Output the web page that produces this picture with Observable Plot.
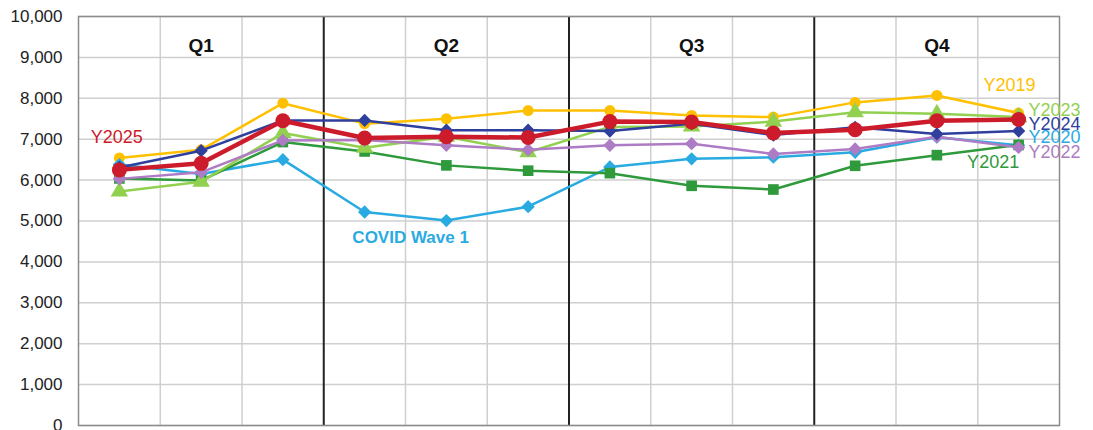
<!DOCTYPE html>
<html>
<head>
<meta charset="utf-8">
<script src="https://cdn.jsdelivr.net/npm/d3@7"></script>
<script src="https://cdn.jsdelivr.net/npm/@observablehq/plot@0.6"></script>
<style>
  html, body { margin: 0; padding: 0; background: #fff; }
  #chart svg { display: block; font-family: "Liberation Sans", Arial, sans-serif; }
</style>
</head>
<body>
<div id="chart"></div>
<script>
// ---- Data ----
const months = ["Jan","Feb","Mar","Apr","May","Jun","Jul","Aug","Sep","Oct","Nov","Dec"];
const quarters = ["Q1","Q2","Q3","Q4"];
const yTicks = [0,1000,2000,3000,4000,5000,6000,7000,8000,9000,10000];

const y2019 = [6540, 6740, 7880, 7380, 7500, 7700, 7700, 7580, 7540, 7900, 8070, 7640];
const y2020 = [6380, 6150, 6500, 5220, 5010, 5350, 6320, 6520, 6560, 6680, 7050, 6850];
const y2021 = [6040, 5990, 6930, 6700, 6360, 6230, 6170, 5860, 5770, 6350, 6610, 6860];
const y2022 = [6030, 6190, 6970, 6980, 6850, 6740, 6850, 6890, 6640, 6760, 7060, 6800];
const y2023 = [5720, 5960, 7150, 6790, 7060, 6680, 7300, 7310, 7430, 7660, 7620, 7540];
const y2024 = [6310, 6720, 7460, 7460, 7220, 7220, 7200, 7380, 7100, 7290, 7130, 7200];
const y2025 = [6250, 6410, 7450, 7030, 7060, 7040, 7430, 7420, 7150, 7230, 7450, 7480];

// Series styling (drawing order: first = bottom)
const series = [
  {name: "Y2019", values: y2019, color: "#FFC000", symbol: "circle",   r: 5.5, width: 2.5},
  {name: "Y2020", values: y2020, color: "#29ABE2", symbol: "diamond2", r: 6,   width: 2.5},
  {name: "Y2021", values: y2021, color: "#2E9A3C", symbol: "square",   r: 6,   width: 2.5},
  {name: "Y2023", values: y2023, color: "#92D050", symbol: "triangle", r: 6.5, width: 2.5},
  {name: "Y2022", values: y2022, color: "#AD7CC4", symbol: "diamond2", r: 6,   width: 2.5},
  {name: "Y2024", values: y2024, color: "#2E3F9E", symbol: "diamond2", r: 6,   width: 2.5},
  {name: "Y2025", values: y2025, color: "#CC1B2B", symbol: "circle",   r: 7.5, width: 4.5}
];

// Annotations (text, month-axis position, value)
const labels = [
  {text: "Y2025",        x: 0.15,  y: 7040, color: "#CC1B2B", bold: false, size: 18},
  {text: "COVID Wave 1", x: 3.35,  y: 4600, color: "#29ABE2", bold: true,  size: 17},
  {text: "Y2019",        x: 11.07, y: 8310, color: "#FFC000", bold: false, size: 18},
  {text: "Y2023",        x: 11.62, y: 7720, color: "#92D050", bold: false, size: 18},
  {text: "Y2024",        x: 11.62, y: 7370, color: "#2E3F9E", bold: false, size: 18},
  {text: "Y2020",        x: 11.62, y: 7040, color: "#29ABE2", bold: false, size: 18},
  {text: "Y2022",        x: 11.62, y: 6680, color: "#AD7CC4", bold: false, size: 18},
  {text: "Y2021",        x: 10.87, y: 6430, color: "#2E9A3C", bold: false, size: 18}
];

// ---- Build ----
const monthBounds = d3.range(1, months.length);           // 1..11
const quarterBounds = monthBounds.filter(d => d % 3 === 0); // 3,6,9
const minorBounds = monthBounds.filter(d => d % 3 !== 0);
const quarterRows = quarters.map((q, i) => ({q, x: i * 3 + 1.5}));

const marks = [
  Plot.ruleY(yTicks, {stroke: "#cfcfcf", strokeWidth: 1.5}),
  Plot.ruleX(minorBounds, {stroke: "#cfcfcf", strokeWidth: 1.5}),
  Plot.ruleX(quarterBounds, {stroke: "#222", strokeWidth: 2}),
  Plot.frame({stroke: "#8c8c8c", strokeWidth: 1.5}),
  Plot.text(quarterRows, {x: "x", y: 9290, text: "q", fontSize: 19, fontWeight: "bold", fill: "#111"}),
  Plot.axisY(yTicks, {tickSize: 0, tickPadding: 16, fontSize: 17, tickFormat: d3.format(","), color: "#222", label: null})
];

for (const s of series) {
  const rows = s.values.map((v, i) => ({x: i + 0.5, y: v, month: months[i]}));
  marks.push(Plot.line(rows, {x: "x", y: "y", stroke: s.color, strokeWidth: s.width}));
  marks.push(Plot.dot(rows, {x: "x", y: "y", fill: s.color, stroke: "none", symbol: s.symbol, r: s.r}));
}

for (const l of labels) {
  marks.push(Plot.text([l], {x: "x", y: "y", text: "text", fill: l.color, fontSize: l.size,
    fontWeight: l.bold ? "bold" : "normal", textAnchor: "start"}));
}

const chart = Plot.plot({
  width: 1093,
  height: 430,
  marginLeft: 78,
  marginRight: 34,
  marginTop: 16,
  marginBottom: 5,
  x: {domain: [0, 12], axis: null},
  y: {domain: [0, 10000], axis: null},
  marks
});
document.getElementById("chart").appendChild(chart);
</script>
</body>
</html>
